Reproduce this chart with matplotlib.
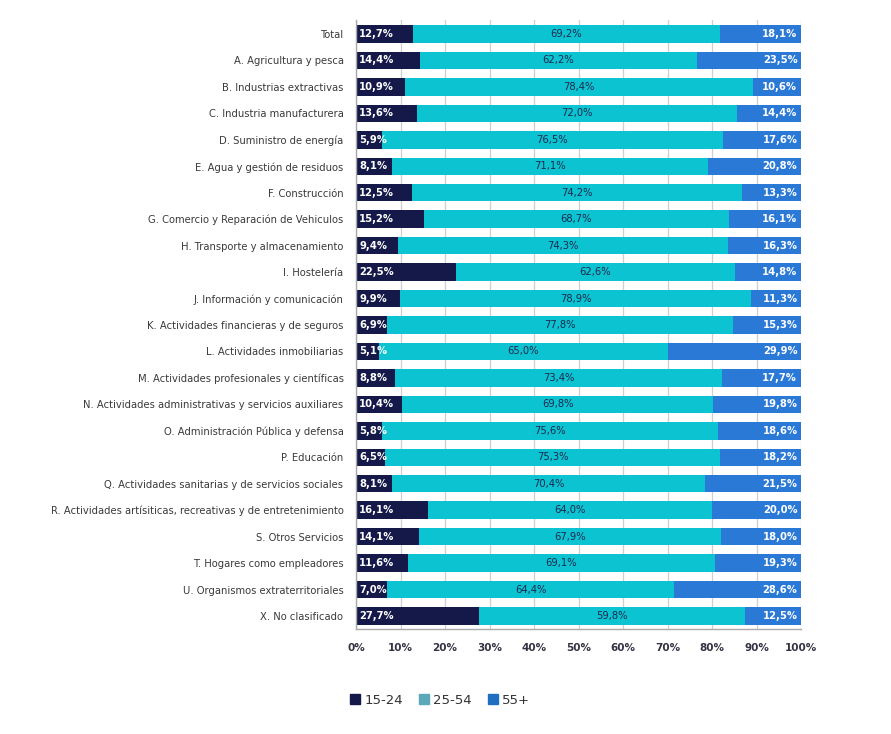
import matplotlib
matplotlib.use("Agg")
import matplotlib.pyplot as plt
from matplotlib.patches import Patch

categories = [
    "Total",
    "A. Agricultura y pesca",
    "B. Industrias extractivas",
    "C. Industria manufacturera",
    "D. Suministro de energía",
    "E. Agua y gestión de residuos",
    "F. Construcción",
    "G. Comercio y Reparación de Vehiculos",
    "H. Transporte y almacenamiento",
    "I. Hostelería",
    "J. Información y comunicación",
    "K. Actividades financieras y de seguros",
    "L. Actividades inmobiliarias",
    "M. Actividades profesionales y científicas",
    "N. Actividades administrativas y servicios auxiliares",
    "O. Administración Pública y defensa",
    "P. Educación",
    "Q. Actividades sanitarias y de servicios sociales",
    "R. Actividades artísiticas, recreativas y de entretenimiento",
    "S. Otros Servicios",
    "T. Hogares como empleadores",
    "U. Organismos extraterritoriales",
    "X. No clasificado",
]
age_15_24 = [12.7, 14.4, 10.9, 13.6, 5.9, 8.1, 12.5, 15.2, 9.4, 22.5, 9.9, 6.9,
             5.1, 8.8, 10.4, 5.8, 6.5, 8.1, 16.1, 14.1, 11.6, 7.0, 27.7]
age_25_54 = [69.2, 62.2, 78.4, 72.0, 76.5, 71.1, 74.2, 68.7, 74.3, 62.6, 78.9, 77.8,
             65.0, 73.4, 69.8, 75.6, 75.3, 70.4, 64.0, 67.9, 69.1, 64.4, 59.8]
age_55 = [18.1, 23.5, 10.6, 14.4, 17.6, 20.8, 13.3, 16.1, 16.3, 14.8, 11.3, 15.3,
          29.9, 17.7, 19.8, 18.6, 18.2, 21.5, 20.0, 18.0, 19.3, 28.6, 12.5]
series_names = ["15-24", "25-54", "55+"]

c_dark = "#15194a"
c_cyan = "#0cc3d1"
c_blue = "#2b79d7"
txt_dark = "#1b2a4e"

plt.rcParams["font.family"] = ["DejaVu Sans"]

fig = plt.figure(figsize=(8.91, 7.34), dpi=100)
ax = fig.add_axes([356 / 891, 1 - 629 / 734, 445 / 891, 609 / 734])

ys = list(range(len(categories)))
h = 0.66
left2 = age_15_24
left3 = [a + b for a, b in zip(age_15_24, age_25_54)]

ax.barh(ys, age_15_24, height=h, color=c_dark, zorder=2)
ax.barh(ys, age_25_54, left=left2, height=h, color=c_cyan, zorder=2)
ax.barh(ys, age_55, left=left3, height=h, color=c_blue, zorder=2)

def fmt(v):
    return f"{v:.1f}%".replace(".", ",")

fs = 7.2
for y, a, b, c in zip(ys, age_15_24, age_25_54, age_55):
    ax.text(0.7, y, fmt(a), ha="left", va="center", color="white",
            fontsize=fs, fontweight="semibold", zorder=3)
    ax.text(a + b / 2, y, fmt(b), ha="center", va="center", color=txt_dark,
            fontsize=fs, zorder=3)
    ax.text(a + b + c - 0.8, y, fmt(c), ha="right", va="center", color="white",
            fontsize=fs, fontweight="semibold", zorder=3)

ax.set_xlim(0, 100)
ax.set_ylim(22.49, -0.53)
ax.set_yticks(ys)
ax.set_yticklabels(categories, fontsize=7.2, color="#3a3a3a")
ax.set_xticks(range(0, 101, 10))
ax.set_xticklabels([f"{v}%" for v in range(0, 101, 10)], fontsize=7.5,
                   fontweight="bold", color="#333344")
ax.tick_params(axis="y", length=0, pad=9)
ax.tick_params(axis="x", length=0, pad=10)
ax.grid(axis="x", color="#cfcfcf", linewidth=0.9, zorder=0)
for side in ["top", "right"]:
    ax.spines[side].set_visible(False)
for side in ["left", "bottom"]:
    ax.spines[side].set_color("#aaaaaa")
    ax.spines[side].set_linewidth(1.0)

handles = [Patch(color=c_dark), Patch(color="#5aa8b8"), Patch(color="#1e70bf")]
fig.legend(handles, series_names, loc="center", bbox_to_anchor=(440 / 891, 1 - 700 / 734),
           ncol=3, frameon=False, fontsize=9.5, handlelength=0.8, handleheight=0.8,
           handletextpad=0.3, columnspacing=1.2, labelcolor="#333333")

fig.savefig("out.png", dpi=100, facecolor="white")
